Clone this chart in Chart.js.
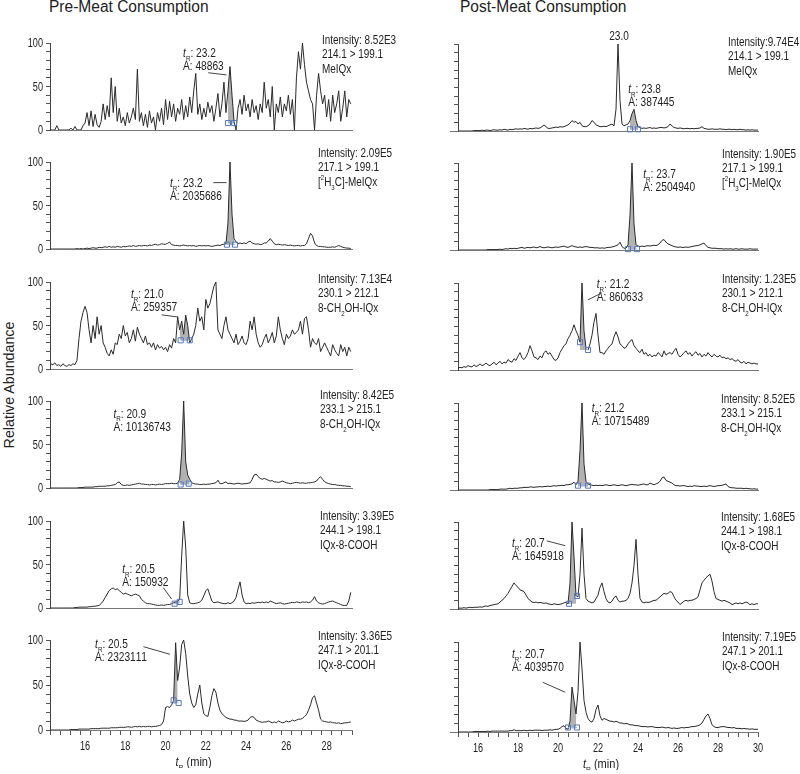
<!DOCTYPE html>
<html><head><meta charset="utf-8">
<script src="https://cdn.jsdelivr.net/npm/chart.js@4.4.1/dist/chart.umd.min.js"></script>
<style>
html,body{margin:0;padding:0;background:#fff;}
body{width:800px;height:774px;overflow:hidden;position:relative;font-family:"Liberation Sans",Arial,Helvetica,sans-serif;color:#222;}
canvas{position:absolute;}
.t{position:absolute;white-space:nowrap;transform-origin:0 0;line-height:18px;}
</style></head><body>
<div class="t" style="left:49px;top:-2px;font-size:16px;transform:scaleX(0.97)">Pre-Meat Consumption</div>
<div class="t" style="left:460px;top:-2px;font-size:16px;transform:scaleX(0.97)">Post-Meat Consumption</div>
<div class="t" style="left:-91px;top:376px;width:200px;text-align:center;font-size:15px;transform-origin:50% 50%;transform:rotate(-90deg) scaleX(0.95)">Relative Abundance</div>
<script>
// ---------- time grids (min) ----------
const tLeft = [14.3,14.4,14.5,14.6,14.7,14.8,14.9,
15.0,15.1,15.2,15.3,15.4,15.5,15.6,15.7,15.8,15.9,
16.0,16.1,16.2,16.3,16.4,16.5,16.6,16.7,16.8,16.9,
17.0,17.1,17.2,17.3,17.4,17.5,17.6,17.7,17.8,17.9,
18.0,18.1,18.2,18.3,18.4,18.5,18.6,18.7,18.8,18.9,
19.0,19.1,19.2,19.3,19.4,19.5,19.6,19.7,19.8,19.9,
20.0,20.1,20.2,20.3,20.4,20.5,20.6,20.7,20.8,20.9,
21.0,21.1,21.2,21.3,21.4,21.5,21.6,21.7,21.8,21.9,
22.0,22.1,22.2,22.3,22.4,22.5,22.6,22.7,22.8,22.9,
23.0,23.1,23.2,23.3,23.4,23.5,23.6,23.7,23.8,23.9,
24.0,24.1,24.2,24.3,24.4,24.5,24.6,24.7,24.8,24.9,
25.0,25.1,25.2,25.3,25.4,25.5,25.6,25.7,25.8,25.9,
26.0,26.1,26.2,26.3,26.4,26.5,26.6,26.7,26.8,26.9,
27.0,27.1,27.2,27.3,27.4,27.5,27.6,27.7,27.8,27.9,
28.0,28.1,28.2,28.3,28.4,28.5,28.6,28.7,28.8,28.9,
29.0,29.1,29.2];
const tRight = [15.0,15.1,15.2,15.3,15.4,15.5,15.6,15.7,15.8,15.9,
16.0,16.1,16.2,16.3,16.4,16.5,16.6,16.7,16.8,16.9,
17.0,17.1,17.2,17.3,17.4,17.5,17.6,17.7,17.8,17.9,
18.0,18.1,18.2,18.3,18.4,18.5,18.6,18.7,18.8,18.9,
19.0,19.1,19.2,19.3,19.4,19.5,19.6,19.7,19.8,19.9,
20.0,20.1,20.2,20.3,20.4,20.5,20.6,20.7,20.8,20.9,
21.0,21.1,21.2,21.3,21.4,21.5,21.6,21.7,21.8,21.9,
22.0,22.1,22.2,22.3,22.4,22.5,22.6,22.7,22.8,22.9,
23.0,23.1,23.2,23.3,23.4,23.5,23.6,23.7,23.8,23.9,
24.0,24.1,24.2,24.3,24.4,24.5,24.6,24.7,24.8,24.9,
25.0,25.1,25.2,25.3,25.4,25.5,25.6,25.7,25.8,25.9,
26.0,26.1,26.2,26.3,26.4,26.5,26.6,26.7,26.8,26.9,
27.0,27.1,27.2,27.3,27.4,27.5,27.6,27.7,27.8,27.9,
28.0,28.1,28.2,28.3,28.4,28.5,28.6,28.7,28.8,28.9,
29.0,29.1,29.2,29.3,29.4,29.5,29.6,29.7,29.8,29.9,
30.0];

// ---------- tick labels ----------
const yTickLabels = [0, 50, 100];
const xTickLabelsLeft = [16, 18, 20, 22, 24, 26, 28];
const xTickLabelsRight = [16, 18, 20, 22, 24, 26, 28, 30];

// ---------- relative abundance (%) : pre-meat (tLeft) ----------
const preMeIQx = [0,0,0,5,0,0,0,
0,0,0,2,0,4,0,0,0,5,
8,20,5,22,4,18,6,3,10,30,
12,28,15,60,20,50,10,25,8,15,
5,20,8,15,25,12,70,10,20,5,
18,3,22,8,15,0,20,10,25,6,
35,12,33,15,30,10,25,18,35,12,
28,15,38,20,45,65,18,30,12,25,
15,32,20,28,10,25,42,15,30,55,
20,45,73,40,10,0,25,35,18,40,
22,30,15,35,20,28,12,30,20,55,
25,35,15,50,0,30,20,38,15,30,
22,40,18,35,0,60,90,70,100,75,
55,45,35,30,0,40,65,45,30,40,
15,35,10,40,20,30,45,10,25,45,
15,35,30];
const preD3MeIQx = [0,0,0,0,0,0,0,
0,0,0,0,0,0,0.5,0,0.5,0,
0.5,1,0.5,1,1.5,1,1,2,1.5,2,
2.5,2,3,2,2.5,2,3,2.5,2,3,
2.5,3,3.5,3,4,3,3.5,4,3.5,4,
4,3.5,4.5,4,5,5.5,4.5,5,6,5.5,
5.5,6.5,8,5,4.5,4,4,3.5,4,4.5,
4,3.5,4,3.5,4,3,3.5,4,3.5,4,
3.5,4,3.5,3,3.5,4,4.5,4,5,5.5,
6,30,100,40,12,8,6,7,6,7,
6,8,9,7,6,5.5,6,5,5.5,7,
7,9,12,9,6,5,5.5,5,4.5,5,
4.5,4,4.5,4,3.5,4,4,3.5,4,4,
6,12,18,15,7,4,3,3,2.5,2.5,
2,2,2,2.5,2,3,4,3,2,1.5,
1,1,0.5];
const pre230 = [6,5,7,4,5,3,6,
4,3,5,4,6,5,10,35,55,65,
72,65,45,30,50,35,60,40,50,30,
25,18,15,22,17,30,28,40,35,50,
38,42,30,35,45,32,48,40,35,30,
38,28,30,25,30,22,28,24,26,22,
25,20,28,24,35,30,60,45,55,40,
62,50,30,35,40,50,70,55,60,45,
80,70,75,85,95,100,45,40,35,50,
60,45,40,35,30,40,28,32,38,30,
28,35,55,45,60,40,30,25,28,35,
40,30,35,42,30,38,60,45,35,28,
40,35,38,45,40,42,45,55,40,58,
60,45,25,35,30,28,35,20,25,30,
25,20,15,28,22,18,15,28,20,25,
15,25,20];
const pre233 = [0,0,0,0,0,0,0,
0,0,0,0,0,0,0,0.5,0.5,0.5,
1,1,1,1,1,1.5,1.5,2,2,2,
2,2.5,2.5,3,3.5,4,6,7,4,3,
3,3.5,3,3.5,4,4.5,5,5.5,4.5,4.5,
4,4,3.5,4,4,3.5,4,4.5,4,4.5,
5,5,5,5.5,5,5,5.5,10,40,100,
30,15,10,6,5,4.5,4.5,4,4,4.5,
4,4.5,4.5,5,5.5,6,9,5,5,6,
7,5,5.5,5,4.5,5,5.5,5,4.5,5,
5,5.5,6,10,15,16,13,11,10,11,
10,9,8,8.5,7,7,6.5,7,8,7,
6,5.5,5,5.5,6,6.5,6,5.5,6,5.5,
5.5,6,6,6.5,7,8,11,13,10,7,
6,5,4.5,4,4,3.5,3,3,2.5,2.5,
2,2,1.5];
const pre244 = [0,0,0,0,0,0,0,
0,0,0,0,0,0.5,0.5,1,1,1,
1,1,1.5,1.5,2,2,2.5,3,5,8,
12,16,20,22,23,21,22,20,18,16,
17,16,15,14,15,16,15,14,10,8,
6,5,5,4.5,4,3.5,3,3,3.5,3,
3.5,4,4,5,6,7,8,10,60,100,
70,15,6,5,5,5.5,6,7,9,14,
20,22,15,8,6,6.5,7,6,5.5,5,
5,6,5,6,8,12,22,30,15,7,
5,5.5,5,6,5.5,6,6.5,6,7,6,
7,6,8,7,6,5,5.5,6,5,4.5,
5,5.5,6,6.5,6,7,6.5,6,7,6.5,
7,6,7,9,13,8,6,5,4.5,5,
6,7,7.5,8,7,6,5,4,3,3,
3,8,18];
const pre247 = [0,0,0,0,0,0,0,
0,0,0,0.5,0.5,0.5,0.5,1,1,1,
1,1,1,1.5,1.5,1.5,1.5,1.5,2,2,
2,2,2,2.5,2.5,2.5,2.5,3,3,3,
3,3.5,3.5,3,3.5,4,3.5,4,3.5,4,
3.5,4,4,3.5,4,4,4.5,5,6,10,
25,26,25,28,33,97,55,70,95,100,
85,60,40,30,25,28,40,50,30,18,
16,15,25,38,46,42,30,22,18,16,
14,13,12,12,11,11,10,10,10,9.5,
10,11,14,15,14,11,10,9,8.5,9,
9,10,9,8,9,8,10,9,8,8.5,
10,9,9.5,11,10,11,12,12,13,15,
17,22,28,36,38,30,22,12,10,9.5,
9,8.5,9,8,8,7.5,8,7,7.5,8,
8,8.5,9];

// ---------- relative abundance (%) : post-meat (tRight) ----------
const postMeIQx = [0,0,0,0,0,0,0,0,0.5,0.5,
0.5,0.5,1,0.5,1,1,0.5,1,1.5,1,
1,1.5,1,2,1.5,1,2,1.5,2,2.5,
2,2.5,2,3,2.5,2,3,2.5,3,3.5,
3,3.5,5,7,5,3,3,3.5,4,4.5,
4,5,4.5,5,6,7,9,12,10,11,
8,10,6,5,5,6,8,12,10,7,
6,5,5,5.5,5,6,7,8,6,25,
100,35,8,6,7,8,12,20,25,12,
5,4,3,3.5,3,3.5,4,3,3.5,3,
3.5,4,4,3.5,4,5,8,6,4,3.5,
3,3.5,3,2.5,3,3,2.5,3,2.5,3,
3,3.5,5,3,2.5,2,2,2.5,2,2,
2,2.5,2,2,1.5,2,2,1.5,2,1.5,
1.5,2,1.5,1.5,1,1.5,1,1.5,1,1,
1];
const postD3MeIQx = [0,0,0,0,0,0,0,0,0,0,
0,0,0,0,0,0.5,0.5,0.5,0.5,0.5,
0.5,1,0.5,1,1.5,1,2,1.5,2,1.5,
2,2.5,3,2,2.5,3,2.5,3,3.5,2.5,
3,4,3,2.5,3,3.5,3,2.5,3,3.5,
3,3.5,4,4.5,3.5,3,4,5,4,3.5,
3,3.5,3,3.5,4,3.5,3,3,2.5,2.5,
2.5,2,2.5,2,2.5,3,3,3.5,4,5,
6,9,4,2,2,6,40,100,30,6,
4.5,4,4.5,4,4.5,5,4.5,5,5.5,5,
6,8,11,12,9,7,6,5,4,3.5,
3,3.5,3,3,3.5,3,3.5,4,4.5,5,
5,6,7,8,5,3,2.5,2,2,2,
1.5,1.5,1.5,1,1.5,1,1.5,1,1,1.5,
1,1,1.5,1,1,1,1.5,1,1,1,
1];
const post230 = [2,3,2.5,4,3,5,4,3.5,6,4,
5,7,5,6,8,6,5,7,9,6,
8,10,7,9,8,12,10,9,13,11,
16,20,14,12,15,20,28,22,15,14,
12,16,14,20,22,18,20,16,12,11,
14,20,24,28,30,36,40,45,52,45,
40,32,100,45,25,23,30,40,55,65,
40,20,20,18,22,25,28,30,38,44,
38,30,28,25,26,30,33,35,28,25,
22,20,24,18,20,16,18,15,17,16,
20,18,15,22,17,19,20,18,22,25,
18,15,17,20,22,18,20,16,19,21,
17,19,15,18,16,20,17,15,18,16,
15,17,14,15,13,14,12,13,11,10,
12,9,8,10,7,9,8,7,8,7,
7];
const post233 = [0,0,0,0,0,0,0,0,0,0,
0,0,0,0,0,0,0.5,0.5,0.5,0.5,
0.5,1,1,1,1,1.5,2,1.5,2,2,
2,2.5,2.5,3,3,3,3.5,3.5,3,3.5,
3.5,4,3.5,4,4,4.5,4,4.5,5,4.5,
5,5,5.5,5,6,6,6.5,7,9,6,
10,45,100,30,10,7,6,5.5,5,5.5,
5,5.5,5,5.5,6,5.5,5,5.5,6,5.5,
5,5.5,6,5.5,5,5.5,6,6.5,6,6,
5.5,6,6.5,7,6,6,8,7,6,7,
8,10,14,15,11,10,9,8,6,5,
5,4.5,5,5,4.5,4,4.5,4,5,4.5,
4.5,4,4,4.5,4,4.5,5,4.5,4,4.5,
5,5,5.5,6,7,4,3,2.5,2.5,2,
2,2,2,1.5,2,1.5,1.5,1,1.5,1,
1];
const post244 = [1,1,1,1.5,1,1.5,2,1.5,2,2,
2,2.5,2,3,3.5,3,4,4.5,5,5.5,
6,8,10,12,15,18,22,26,30,27,
25,22,21,20,16,12,10,8,7.5,8,
7,7.5,7,6.5,7,6,5.5,5,6,5.5,
5,5.5,6,7,8,6,30,100,60,15,
14,40,93,40,12,9,8,7,8,12,
16,25,30,20,12,8,7,9,13,15,
10,8,9,9,10,12,18,30,50,80,
40,12,8,7,8,7.5,8,9,10,10,
12,14,16,18,17,18,20,19,14,10,
8,5,7,9,10,9,10,10,11,12,
14,22,30,33,36,38,40,32,20,12,
11,10,9,10,9,8,7,5,6,7,
6,7,6,7,8,7,5,6,5,6,
6];
const post247 = [0,0,0,0,0,0,0,0,0.5,0.5,
0.5,0.5,0.5,0.5,0.5,1,0.5,1,1,1,
1,1,1,1,1,1,1.5,1.5,2.5,1.5,
1.5,1.5,1.5,2,1.5,1.5,2,1.5,2,2,
2,2,1.5,2,2,2,2.5,2,2.5,3,
3,4,6,7,4,3,12,50,35,20,
45,100,70,35,22,15,12,11,15,25,
30,18,13,15,14,13,12,12,11,12,
11,10,10,9,9.5,9,8,8,7.5,7,
7,6.5,6,6,6,5.5,6,6,5.5,5,
5,5,5.5,5,4.5,5,4.5,4,4.5,4,
4,4.5,5,4.5,5,5,5.5,6,6,6.5,
7,8,10,14,18,20,15,8,6,5,
5,5.5,6,6,5.5,5,5,4.5,5,4,
4,4,3.5,4,3.5,3.5,3,3.5,3,3,
3];

// ---------- layout (not data) ----------
const COLS = [
  {left:0, width:400, padL:0, axisW:50, yPos:'left', padR:48, min:14.26, max:29.26, tops:[43,162,282,401,521,640], xLabels:xTickLabelsLeft, yLabels:true, titleT:21.39},
  {left:400, width:400, padL:50, axisW:null, yPos:{x:15}, padR:42, min:14.6, max:30, tops:[44,163,283,403,522,642], xLabels:xTickLabelsRight, yLabels:false, titleT:22.15}
];
const PAD_TOP = 22, PLOT_H = 90;
const TEXT = '#222';
const FONT = '"Liberation Sans", Arial, Helvetica, sans-serif';

const panels = [
 {col:0,row:0,t:tLeft,v:preMeIQx,info:['Intensity: 8.52E3','214.1 > 199.1','MeIQx'],infoX:322,infoDy:4,
  win:[23.1,23.4],base:8,marks:[[23.1,8],[23.4,8]],ann:{tr:'23.2',area:'48863',at:[20.87,88.9],lead:[[22.12,65.8],[23.03,63.3]]}},
 {col:0,row:1,t:tLeft,v:preD3MeIQx,info:['Intensity: 2.09E5','217.1 > 199.1','[^2H_3C]-MeIQx'],infoX:318,infoDy:10,
  win:[23.0,23.4],base:5,marks:[[23.05,5],[23.45,5]],ann:{tr:'23.2',area:'2035686',at:[20.22,76.3],lead:[[22.37,76.3],[23.03,76.3]]}},
 {col:0,row:2,t:tLeft,v:pre230,info:['Intensity: 7.13E4','230.1 > 212.1','8-CH_2OH-IQx'],infoX:318,infoDy:4,
  win:[20.7,21.2],base:33,marks:[[20.75,33],[21.2,33]],ann:{tr:'21.0',area:'259357',at:[18.28,87.4],lead:[[19.81,62.2],[20.63,59.7]]}},
 {col:0,row:3,t:tLeft,v:pre233,info:['Intensity: 8.42E5','233.1 > 215.1','8-CH_2OH-IQx'],infoX:320,infoDy:7,
  win:[20.7,21.2],base:4,marks:[[20.75,4],[21.15,5]],ann:{tr:'20.9',area:'10136743',at:[17.41,86.3]}},
 {col:0,row:4,t:tLeft,v:pre244,info:['Intensity: 3.39E5','244.1 > 198.1','IQx-8-COOH'],infoX:320,infoDy:6,
  win:[20.4,20.7],base:5,marks:[[20.45,5],[20.7,7]],ann:{tr:'20.5',area:'150932',at:[17.85,45.6],lead:[[19.89,23.3],[20.30,10.3]]}},
 {col:0,row:5,t:tLeft,v:pre247,info:['Intensity: 3.36E5','247.1 > 201.1','IQx-8-COOH'],infoX:318,infoDy:5,
  win:[20.4,20.6],base:31,marks:[[20.4,33],[20.65,30]],ann:{tr:'20.5',area:'2323111',at:[16.5,96.3],lead:[[18.9,92.6],[20.22,84.1]]}},
 {col:1,row:0,t:tRight,v:postMeIQx,info:['Intensity:9.74E4','214.1 > 199.1','MeIQx'],infoX:328,infoDy:3,
  win:[23.6,24.0],base:2,marks:[[23.6,2],[24.0,2]],ann:{tr:'23.8',area:'387445',at:[23.51,49.2],peak:{text:'23.0',at:[23.05,110]}}},
 {col:1,row:1,t:tRight,v:postD3MeIQx,info:['Intensity: 1.90E5','217.1 > 199.1','[^2H_3C]-MeIQx'],infoX:322,infoDy:10,
  win:[23.5,23.9],base:1,marks:[[23.5,1],[23.95,1]],ann:{tr:'23.7',area:'2504940',at:[24.26,87.8]}},
 {col:1,row:2,t:tRight,v:post230,info:['Intensity: 1.23E5','230.1 > 212.1','8-CH_2OH-IQx'],infoX:322,infoDy:5,
  win:[21.1,21.5],base:23,marks:[[21.1,32],[21.5,23]],ann:{tr:'21.2',area:'860633',at:[21.94,99.7],lead:[[22.19,88.6],[21.49,80.5]]}},
 {col:1,row:3,t:tRight,v:post233,info:['Intensity: 8.52E5','233.1 > 215.1','8-CH_2OH-IQx'],infoX:321,infoDy:5,
  win:[21.0,21.5],base:4,marks:[[21.0,5],[21.5,5]],ann:{tr:'21.2',area:'10715489',at:[21.69,95.2]}},
 {col:1,row:4,t:tRight,v:post244,info:['Intensity: 1.68E5','244.1 > 198.1','IQx-8-COOH'],infoX:321,infoDy:6,
  win:[20.5,20.9],base:6,marks:[[20.55,6],[20.95,15]],ann:{tr:'20.7',area:'1645918',at:[17.70,76.5],lead:[[19.44,78.3],[20.36,72.8]]}},
 {col:1,row:5,t:tRight,v:post247,info:['Intensity: 7.19E5','247.1 > 201.1','IQx-8-COOH'],infoX:322,infoDy:6,
  win:[20.5,20.9],base:4,marks:[[20.5,5],[20.95,5]],ann:{tr:'20.7',area:'4039570',at:[17.70,87.1],lead:[[19.24,55.2],[20.36,44.2]]}}
];

// rich text: '*x' italic, '_x' subscript, '^x' superscript; y = visual middle
function rich(ctx, s, x, y, size, sx, align) {
  const segs = [];
  for (let i = 0; i < s.length; i++) {
    let c = s[i], kind = 'n';
    if ((c === '_' || c === '^' || c === '*') && i + 1 < s.length) { kind = c; c = s[++i]; }
    segs.push({c, kind});
  }
  const fontFor = k => (k === '*' ? 'italic ' : '') + ((k === '_' || k === '^') ? Math.round(size * 0.62) : size) + 'px ' + FONT;
  ctx.save();
  ctx.textBaseline = 'alphabetic';
  ctx.textAlign = 'left';
  let w = 0;
  segs.forEach(g => { ctx.font = fontFor(g.kind); g.w = ctx.measureText(g.c).width * sx; w += g.w; });
  let cx = align === 'center' ? x - w / 2 : align === 'right' ? x - w : x;
  const base = y + size * 0.36;
  segs.forEach(g => {
    ctx.font = fontFor(g.kind);
    const dy = g.kind === '_' ? size * 0.3 : g.kind === '^' ? -size * 0.42 : 0;
    ctx.save(); ctx.translate(cx, base + dy); ctx.scale(sx, 1); ctx.fillText(g.c, 0, 0); ctx.restore();
    cx += g.w;
  });
  ctx.restore();
  return w;
}

function makeOverlay(p, c, bottom) {
  return {
    id: 'overlay',
    afterDraw(chart) {
      const ctx = chart.ctx, xs = chart.scales.x, ys = chart.scales.y, ca = chart.chartArea;
      ctx.save();
      ctx.fillStyle = TEXT;
      if (c.yLabels) yTickLabels.forEach(v => rich(ctx, String(v), ca.left - 7, ys.getPixelForValue(v), 12, 0.76, 'right'));
      if (bottom) {
        c.xLabels.forEach(v => rich(ctx, String(v), xs.getPixelForValue(v), ca.bottom + 16, 12, 0.76, 'center'));
        rich(ctx, '*t_R (min)', xs.getPixelForValue(c.titleT), ca.bottom + 31, 13, 0.85, 'center');
      }
      p.info.forEach((s, i) => rich(ctx, s, p.infoX, ca.top - p.infoDy + i * 14.5, 13, 0.765, 'left'));
      const a = p.ann;
      const ax = xs.getPixelForValue(a.at[0]), ay = ys.getPixelForValue(a.at[1]);
      rich(ctx, '*t_R: ' + a.tr, ax, ay, 13, 0.78, 'left');
      rich(ctx, 'A: ' + a.area, ax, ay + 13, 13, 0.78, 'left');
      if (a.lead) {
        ctx.strokeStyle = '#444'; ctx.lineWidth = 1;
        ctx.beginPath();
        ctx.moveTo(xs.getPixelForValue(a.lead[0][0]), ys.getPixelForValue(a.lead[0][1]));
        ctx.lineTo(xs.getPixelForValue(a.lead[1][0]), ys.getPixelForValue(a.lead[1][1]));
        ctx.stroke();
      }
      if (a.peak) rich(ctx, a.peak.text, xs.getPixelForValue(a.peak.at[0]), ys.getPixelForValue(a.peak.at[1]), 13, 0.78, 'center');
      ctx.restore();
    }
  };
}

panels.forEach(p => {
  const c = COLS[p.col];
  const bottom = p.row === 5;
  const xh = bottom ? 38 : 2;
  const H = PAD_TOP + PLOT_H + xh;
  const cv = document.createElement('canvas');
  cv.width = c.width; cv.height = H;
  cv.style.left = c.left + 'px'; cv.style.top = (c.tops[p.row] - PAD_TOP) + 'px';
  cv.style.width = c.width + 'px'; cv.style.height = H + 'px';
  document.body.appendChild(cv);
  const trace = p.t.map((t, i) => ({x: t, y: p.v[i]}));
  const shade = trace.filter(q => q.x >= p.win[0] - 1e-6 && q.x <= p.win[1] + 1e-6);
  const yScale = { position: c.yPos, min: 0, max: 100,
    ticks: { display: false, stepSize: 10, autoSkip: false, includeBounds: false },
    grid: { display: true, drawOnChartArea: false, drawTicks: true, tickLength: 4, color: '#555' },
    border: { display: true, color: '#444', width: 1 } };
  if (c.axisW !== null) yScale.afterFit = s => { s.width = c.axisW; };
  new Chart(cv, {
    type: 'line',
    data: { datasets: [
      { data: trace, borderColor: '#2a2a2a', borderWidth: 1, pointRadius: 0, fill: false, tension: 0, order: 1 },
      { data: shade, borderColor: 'rgba(0,0,0,0)', borderWidth: 0, backgroundColor: '#b2b2b2', fill: {value: p.base}, pointRadius: 0, tension: 0, order: 2 },
      { data: p.marks.map(m => ({x: m[0], y: m[1]})), showLine: true, borderColor: '#9db3dc', borderWidth: 1,
        pointStyle: 'rect', pointRadius: 3.6, pointBorderColor: '#5577bb', pointBackgroundColor: 'rgba(255,255,255,0)',
        pointBorderWidth: 1, fill: false, clip: false, order: 0 }
    ]},
    options: {
      responsive: false, animation: false, devicePixelRatio: 1,
      layout: { padding: { top: PAD_TOP, right: c.padR, left: c.padL, bottom: 0 } },
      plugins: { legend: {display: false}, tooltip: {enabled: false} },
      scales: {
        x: { type: 'linear', min: c.min, max: c.max,
             afterFit: s => { s.height = xh; },
             ticks: { display: false, stepSize: 0.5, includeBounds: false, autoSkip: false },
             grid: { display: true, drawOnChartArea: false, drawTicks: bottom, tickLength: 5, color: '#555' },
             border: { display: true, color: '#777', width: 1 } },
        y: yScale
      }
    },
    plugins: [makeOverlay(p, c, bottom)]
  });
});
</script>
</body></html>
